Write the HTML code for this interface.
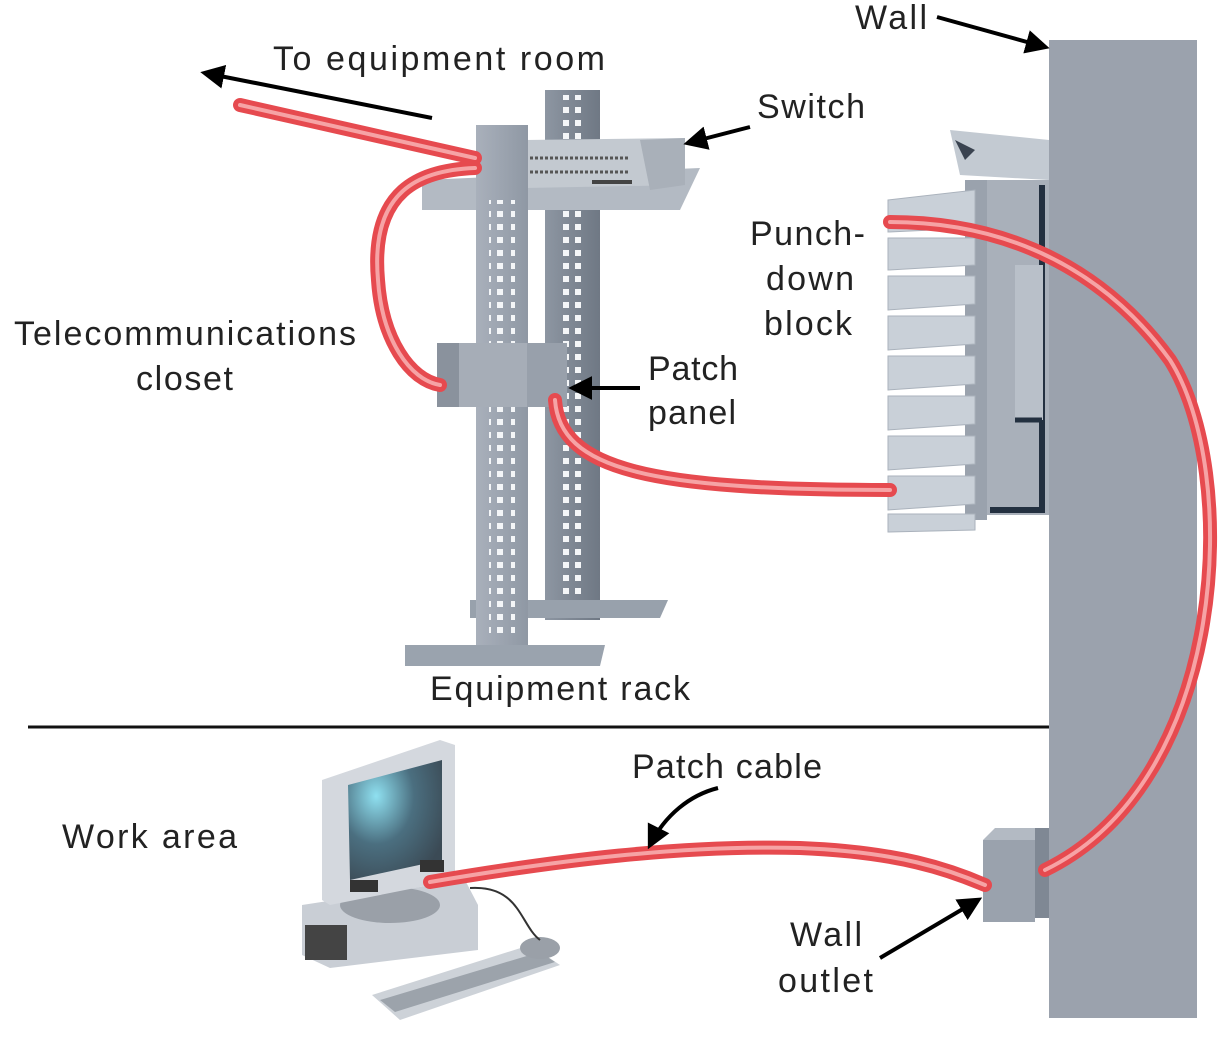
<!DOCTYPE html>
<html><head><meta charset="utf-8"><style>
html,body{margin:0;padding:0;background:#fff;}
svg{display:block;}
text{font-family:"Liberation Sans",sans-serif;fill:#222;font-size:34px;}
</style></head><body>
<svg width="1230" height="1042" viewBox="0 0 1230 1042" xmlns="http://www.w3.org/2000/svg">
<defs>
<pattern id="holes" x="0" y="0" width="26" height="13" patternUnits="userSpaceOnUse">
<rect x="3" y="3" width="6" height="6" fill="#f4f6f8"/>
<rect x="17" y="3" width="6" height="6" fill="#f4f6f8"/>
</pattern>
<marker id="ah" viewBox="0 0 10 10" refX="8" refY="5" markerWidth="6" markerHeight="6" orient="auto">
<path d="M0,0 L10,5 L0,10 Z" fill="#000"/>
</marker>
<linearGradient id="post" x1="0" x2="1"><stop offset="0" stop-color="#a9b0bb"/><stop offset="1" stop-color="#8f98a4"/></linearGradient>
<linearGradient id="postb" x1="0" x2="1"><stop offset="0" stop-color="#8d96a2"/><stop offset="1" stop-color="#6f7884"/></linearGradient>
<radialGradient id="scr" cx="0.3" cy="0.3" r="0.8"><stop offset="0" stop-color="#8fe0f0"/><stop offset="0.5" stop-color="#4b6f80"/><stop offset="1" stop-color="#3b4a55"/></radialGradient>
</defs>

<line x1="28" y1="727" x2="1050" y2="727" stroke="#111" stroke-width="3"/>

<rect x="1049" y="40" width="148" height="978" fill="#9ba2ad"/>

<!-- rack back post -->
<rect x="545" y="90" width="55" height="530" fill="url(#postb)"/>
<rect x="556" y="95" width="26" height="520" fill="url(#holes)"/>
<path d="M470,600 L668,600 L660,618 L470,618 Z" fill="#98a1ac"/>
<!-- switch shelf -->
<path d="M422,180 L700,168 L680,210 L422,210 Z" fill="#b3bac3"/>
<path d="M525,140 L685,138 L685,185 L525,188 Z" fill="#c3c9d0"/>
<path d="M640,140 L685,138 L685,185 L650,190 Z" fill="#a9b0b9"/>
<line x1="530" y1="158" x2="630" y2="158" stroke="#555" stroke-width="3" stroke-dasharray="3 2"/>
<line x1="530" y1="172" x2="630" y2="172" stroke="#555" stroke-width="3" stroke-dasharray="3 2"/>
<rect x="592" y="180" width="40" height="4" fill="#444"/>
<!-- front post -->
<rect x="476" y="125" width="52" height="540" fill="url(#post)"/>
<rect x="489" y="200" width="26" height="440" fill="url(#holes)"/>
<path d="M405,645 L605,645 L600,666 L405,666 Z" fill="#9aa3ae"/>
<!-- patch panels -->
<rect x="437" y="343" width="130" height="64" fill="#a6adb7"/>
<rect x="437" y="343" width="22" height="64" fill="#8a929d"/>
<rect x="527" y="343" width="40" height="64" fill="#98a0ab"/>

<!-- punch-down block -->
<rect x="985" y="180" width="64" height="335" fill="#a9b0ba"/>
<path d="M1042,185 L1042,510 L990,510" fill="none" stroke="#233040" stroke-width="6"/>
<rect x="1015" y="265" width="28" height="155" fill="#b9c0c9"/>
<path d="M1015,420 L1042,420" stroke="#233040" stroke-width="5"/>
<path d="M950,130 L1049,140 L1049,180 L960,175 Z" fill="#c3cad2"/>
<path d="M955,140 L975,150 L965,160 Z" fill="#3a4350"/>
<rect x="965" y="180" width="22" height="340" fill="#9aa2ad"/>
<g fill="#c9d0d8" stroke="#aab2bc" stroke-width="1">
<path d="M888,200 L975,190 L975,228 L888,232 Z"/>
<path d="M888,238 L975,238 L975,265 L888,270 Z"/>
<path d="M888,276 L975,276 L975,304 L888,310 Z"/>
<path d="M888,316 L975,316 L975,344 L888,350 Z"/>
<path d="M888,356 L975,356 L975,384 L888,390 Z"/>
<path d="M888,396 L975,396 L975,424 L888,430 Z"/>
<path d="M888,436 L975,436 L975,464 L888,470 Z"/>
<path d="M888,476 L975,476 L975,504 L888,510 Z"/>
<path d="M888,514 L975,514 L975,530 L888,532 Z"/>
</g>

<!-- wall outlet -->
<rect x="983" y="840" width="52" height="82" fill="#9aa2ad"/>
<path d="M983,840 L995,828 L1047,828 L1035,840 Z" fill="#b3bac3"/>
<rect x="1035" y="828" width="14" height="90" fill="#7f8894"/>

<!-- computer -->
<path d="M302,905 L465,880 L478,905 L478,950 L330,968 L302,955 Z" fill="#c9ced5"/>
<rect x="305" y="925" width="42" height="35" fill="#444"/>
<ellipse cx="390" cy="905" rx="50" ry="18" fill="#9aa0a8"/>
<path d="M322,780 L440,740 L455,745 L455,880 L330,905 L322,900 Z" fill="#d4d8de"/>
<path d="M348,785 L442,760 L442,860 L350,880 Z" fill="url(#scr)"/>
<rect x="350" y="880" width="28" height="12" fill="#333"/>
<rect x="420" y="860" width="24" height="12" fill="#333"/>
<path d="M372,995 L530,945 L560,965 L400,1020 Z" fill="#cdd2d8"/>
<path d="M380,1000 L540,952 L555,962 L395,1012 Z" fill="#9ca3ab"/>
<ellipse cx="540" cy="948" rx="20" ry="11" fill="#9aa0a8"/>
<path d="M470,888 C520,885 520,925 540,940" fill="none" stroke="#333" stroke-width="2"/>

<!-- cables -->
<g fill="none" stroke-linecap="round">
<g stroke="#e64a4f" stroke-width="14">
<path d="M240,105 L475,158"/>
<path d="M475,168 C420,170 370,190 378,280 C382,340 410,380 440,385"/>
<path d="M555,400 C560,470 650,490 890,490"/>
<path d="M890,222 C980,222 1090,250 1170,360 C1240,470 1230,780 1045,870"/>
<path d="M430,882 C560,860 680,845 800,848 C900,852 950,870 985,885"/>
</g>
<g stroke="#f6a3a5" stroke-width="4">
<path d="M240,105 L475,158"/>
<path d="M475,168 C420,170 370,190 378,280 C382,340 410,380 440,385"/>
<path d="M555,400 C560,470 650,490 890,490"/>
<path d="M890,222 C980,222 1090,250 1170,360 C1240,470 1230,780 1045,870"/>
<path d="M430,882 C560,860 680,845 800,848 C900,852 950,870 985,885"/>
</g>
</g>

<!-- arrows -->
<g stroke="#000" stroke-width="4" fill="none" marker-end="url(#ah)">
<line x1="937" y1="17" x2="1045" y2="47"/>
<line x1="432" y1="118" x2="205" y2="73"/>
<line x1="750" y1="127" x2="688" y2="143"/>
<line x1="640" y1="388" x2="573" y2="388"/>
<path d="M718,788 C690,795 665,815 650,845"/>
<line x1="880" y1="958" x2="978" y2="900"/>
</g>

<text x="855" y="29" textLength="72">Wall</text>
<text x="273" y="70" textLength="332">To equipment room</text>
<text x="757" y="118" textLength="108">Switch</text>
<text x="750" y="245" textLength="115">Punch-</text>
<text x="766" y="290" textLength="88">down</text>
<text x="764" y="335" textLength="88">block</text>
<text x="14" y="345" textLength="342">Telecommunications</text>
<text x="136" y="390" textLength="97">closet</text>
<text x="648" y="380" textLength="90">Patch</text>
<text x="648" y="424" textLength="88">panel</text>
<text x="430" y="700" textLength="260">Equipment rack</text>
<text x="632" y="778" textLength="190">Patch cable</text>
<text x="62" y="848" textLength="175">Work area</text>
<text x="790" y="946" textLength="72">Wall</text>
<text x="778" y="992" textLength="95">outlet</text>
</svg>
</body></html>
